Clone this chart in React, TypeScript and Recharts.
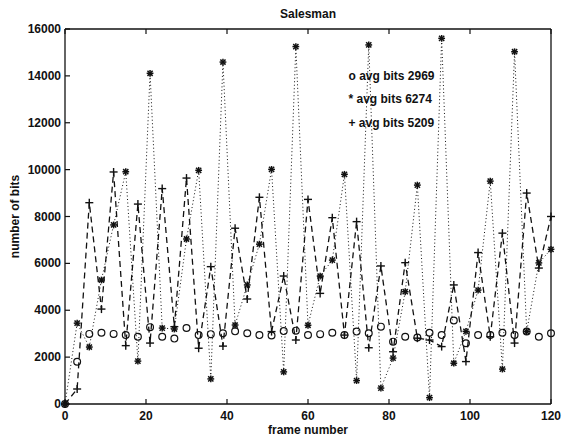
import React from 'react';
import { LineChart, Line, XAxis, YAxis, ReferenceDot } from 'recharts';

const frames = [0, 3, 6, 9, 12, 15, 18, 21, 24, 27, 30, 33, 36, 39, 42, 45, 48, 51, 54, 57, 60, 63, 66, 69, 72, 75, 78, 81, 84, 87, 90, 93, 96, 99, 102, 105, 108, 111, 114, 117, 120];
const circleBits = [0, 1800, 2990, 3040, 2990, 2940, 2870, 3280, 2870, 2790, 3240, 2940, 2980, 3020, 3100, 3020, 2940, 2920, 3110, 3130, 2940, 2980, 3040, 2940, 3090, 3020, 3300, 2660, 2870, 2840, 3040, 2940, 3560, 2590, 2940, 2940, 3040, 2940, 3090, 2870, 3020];
const starBits = [0, 3450, 2430, 5290, 7640, 9910, 1830, 14110, 3240, 3200, 7040, 9970, 1070, 14590, 3370, 5080, 6820, 10010, 1370, 15250, 3360, 5460, 6140, 9800, 1000, 15320, 680, 1960, 4790, 9340, 270, 15600, 1740, 3100, 4860, 9510, 1490, 15030, 3090, 6020, 6600];
const plusBits = [0, 640, 8590, 4050, 9900, 2490, 8530, 2600, 9190, 3300, 9640, 2380, 5860, 2470, 7500, 4480, 8820, 3090, 5460, 2730, 8730, 4720, 7950, 2940, 7780, 2400, 5890, 2230, 6030, 2810, 2730, 2450, 5080, 1810, 6460, 2870, 7290, 2600, 9000, 5800, 8000];
const xTicks = [0, 20, 40, 60, 80, 100, 120];
const yTicks = [0, 2000, 4000, 6000, 8000, 10000, 12000, 14000, 16000];
const legendTexts = ['o avg bits 2969', '* avg bits 6274', '+ avg bits 5209'];
const legendYs = [14000, 13000, 12000];
const legendX = 70;
const titleText = 'Salesman';
const xLabelText = 'frame number';
const yLabelText = 'number of bits';

const data = frames.map((f, i) => ({ frame: f, o: circleBits[i], star: starBits[i], plus: plusBits[i] }));

const FONT = '"Liberation Sans", Arial, Helvetica, sans-serif';
const INK = '#111';
const W = 'bold';

const BottomTick = (p: any) => (
  <g>
    <line x1={p.x} x2={p.x} y1={p.y} y2={p.y - 5} stroke={INK} strokeWidth={1.2} />
    <text x={p.x} y={p.y + 16} textAnchor="middle" fontFamily={FONT} fontSize={12} fontWeight={W} fill={INK}>{p.payload.value}</text>
  </g>
);
const TopTick = (p: any) => (
  <line x1={p.x} x2={p.x} y1={p.y} y2={p.y + 5} stroke={INK} strokeWidth={1.2} />
);
const LeftTick = (p: any) => (
  <g>
    <line x1={p.x} x2={p.x + 5} y1={p.y} y2={p.y} stroke={INK} strokeWidth={1.2} />
    <text x={p.x - 4} y={p.y + 4} textAnchor="end" fontFamily={FONT} fontSize={12} fontWeight={W} fill={INK}>{p.payload.value}</text>
  </g>
);
const RightTick = (p: any) => (
  <line x1={p.x} x2={p.x - 5} y1={p.y} y2={p.y} stroke={INK} strokeWidth={1.2} />
);

const CircleDot = (p: any) => {
  if (p.cx == null || p.cy == null) return <g key={`c${p.index}`} />;
  return <circle key={`c${p.index}`} cx={p.cx} cy={p.cy} r={3.4} fill="none" stroke={INK} strokeWidth={1.2} />;
};
const StarDot = (p: any) => {
  if (p.cx == null || p.cy == null) return <g key={`s${p.index}`} />;
  const s = 3.4;
  const d = 2.6;
  const { cx, cy } = p;
  return (
    <g key={`s${p.index}`} stroke={INK} strokeWidth={1.5}>
      <line x1={cx - s} x2={cx + s} y1={cy} y2={cy} />
      <line x1={cx} x2={cx} y1={cy - s} y2={cy + s} />
      <line x1={cx - d} x2={cx + d} y1={cy - d} y2={cy + d} />
      <line x1={cx - d} x2={cx + d} y1={cy + d} y2={cy - d} />
    </g>
  );
};
const PlusDot = (p: any) => {
  if (p.cx == null || p.cy == null) return <g key={`p${p.index}`} />;
  const s = 4;
  const { cx, cy } = p;
  return (
    <g key={`p${p.index}`} stroke={INK} strokeWidth={1.4}>
      <line x1={cx - s} x2={cx + s} y1={cy} y2={cy} />
      <line x1={cx} x2={cx} y1={cy - s} y2={cy + s} />
    </g>
  );
};

const TitleLabel = (p: any) => {
  const vb = p.viewBox || {};
  return (
    <text x={vb.x + vb.width / 2} y={18} textAnchor="middle" fontFamily={FONT} fontSize={12} fontWeight={W} fill={INK}>{titleText}</text>
  );
};
const XLabel = (p: any) => {
  const vb = p.viewBox || {};
  return (
    <text x={vb.x + vb.width / 2} y={vb.y + 30} textAnchor="middle" fontFamily={FONT} fontSize={12} fontWeight={W} fill={INK}>{xLabelText}</text>
  );
};
const YLabel = (p: any) => {
  const vb = p.viewBox || {};
  const cx = vb.x + 4;
  const cy = vb.y + vb.height / 2;
  return (
    <text x={cx} y={cy} transform={`rotate(-90 ${cx} ${cy})`} textAnchor="middle" fontFamily={FONT} fontSize={12} fontWeight={W} fill={INK}>{yLabelText}</text>
  );
};

export default function App() {
  return (
    <div style={{ position: 'absolute', left: 0, top: 0, width: 565, height: 444, background: '#fff' }}>
      <LineChart width={565} height={444} data={data} margin={{ top: 27, right: 12, bottom: 10, left: 15 }}>
        <XAxis xAxisId="b" dataKey="frame" type="number" domain={[0, 120]} ticks={xTicks} interval={0}
          orientation="bottom" height={30} tickSize={0} tickMargin={0} tickLine={false}
          axisLine={{ stroke: INK, strokeWidth: 1.3 }} tick={BottomTick} label={<XLabel />} />
        <XAxis xAxisId="t" dataKey="frame" type="number" domain={[0, 120]} ticks={xTicks} interval={0}
          orientation="top" height={2} tickSize={0} tickMargin={0} tickLine={false}
          axisLine={{ stroke: INK, strokeWidth: 1.3 }} tick={TopTick} label={<TitleLabel />} />
        <YAxis yAxisId="l" type="number" domain={[0, 16000]} ticks={yTicks} interval={0}
          orientation="left" width={50} tickSize={0} tickMargin={0} tickLine={false}
          axisLine={{ stroke: INK, strokeWidth: 1.3 }} tick={LeftTick} label={<YLabel />} />
        <YAxis yAxisId="r" type="number" domain={[0, 16000]} ticks={yTicks} interval={0}
          orientation="right" width={2} tickSize={0} tickMargin={0} tickLine={false}
          axisLine={{ stroke: INK, strokeWidth: 1.3 }} tick={RightTick} />
        <Line xAxisId="b" yAxisId="l" dataKey="plus" stroke={INK} strokeWidth={1.3} strokeDasharray="6 4"
          dot={PlusDot} activeDot={false} isAnimationActive={false} />
        <Line xAxisId="b" yAxisId="l" dataKey="star" stroke={INK} strokeWidth={1} strokeDasharray="1 2.5"
          dot={StarDot} activeDot={false} isAnimationActive={false} />
        <Line xAxisId="b" yAxisId="l" dataKey="o" stroke="none" dot={CircleDot} activeDot={false} isAnimationActive={false} />
        {legendTexts.map((t, i) => (
          <ReferenceDot key={t} xAxisId="b" yAxisId="l" x={legendX} y={legendYs[i]} r={0}
            shape={(p: any) => (
              <text x={p.cx} y={p.cy + 4} textAnchor="start" fontFamily={FONT} fontSize={12} fontWeight={W} fill={INK}>{t}</text>
            )} />
        ))}
      </LineChart>
    </div>
  );
}
